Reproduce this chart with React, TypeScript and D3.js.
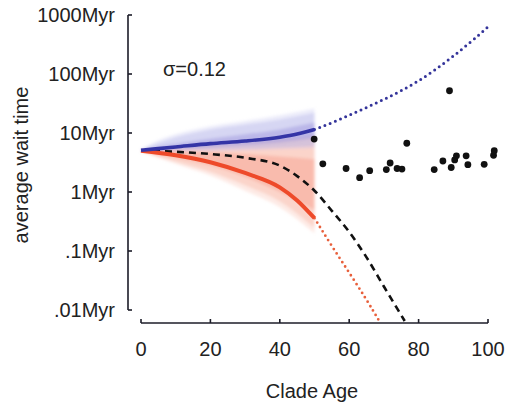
import React, { useEffect, useRef } from "react";
import * as d3 from "d3";

// mean curves (age in Myr, wait time in Myr)
const meanAges = [0, 10, 20, 30, 40, 45, 50];
const blueMean = [5.1, 5.8, 6.6, 7.3, 8.5, 9.6, 11.5];
const redMean = [5.0, 4.2, 3.2, 2.1, 1.2, 0.72, 0.36];

const dashAges = [0, 10, 20, 30, 40, 45, 50, 55, 60, 65, 70, 76];
const dashVals = [5.0, 4.8, 4.4, 3.8, 2.8, 1.86, 1.05, 0.48, 0.21, 0.078, 0.025, 0.0065];

const blueProjAges = [50, 55, 60, 65, 70, 75, 80, 85, 90, 95, 100];
const blueProjVals = [11.5, 14.8, 20, 27, 37, 52, 76, 120, 200, 347, 630];

const redProjAges = [50, 55, 60, 65, 69];
const redProjVals = [0.36, 0.12, 0.043, 0.015, 0.006];

// envelopes of the simulated clades
const cloudAges = [0, 5, 10, 20, 30, 40, 50];
const blueFaintHi = [5.3, 7.5, 9.5, 13, 16, 20, 26];
const blueFaintLo = [5.0, 4.9, 4.9, 5.0, 5.1, 5.3, 5.5];
const blueOuterHi = [5.2, 6.8, 8.5, 11.5, 14, 17, 22];
const blueOuterLo = [5.0, 5.0, 5.1, 5.2, 5.4, 5.7, 6.0];
const blueInnerHi = [5.1, 5.9, 6.6, 8.0, 9.5, 11.5, 15];
const blueInnerLo = [5.0, 5.2, 5.4, 5.8, 6.3, 7.0, 8.2];
const redFaintHi = [5.0, 5.4, 5.8, 6.6, 7.4, 8.2, 9.5];
const redFaintLo = [4.9, 3.8, 3.0, 1.9, 1.05, 0.55, 0.2];
const redOuterHi = [5.0, 5.3, 5.6, 6.2, 6.8, 7.5, 8.5];
const redOuterLo = [4.9, 4.0, 3.3, 2.2, 1.3, 0.7, 0.25];
const redInnerHi = [5.0, 5.0, 4.9, 4.7, 4.4, 4.0, 3.6];
const redInnerLo = [4.9, 4.3, 3.8, 2.8, 1.8, 1.0, 0.5];

// observed clades
const obsAges = [49.9, 52.4, 59.1, 63.0, 65.9, 70.7, 71.8, 73.8, 75.2, 76.6, 84.5, 87.0, 88.9, 89.4, 90.4, 90.9, 93.7, 94.2, 98.9, 101.6, 101.8];
const obsVals = [7.9, 3.0, 2.5, 1.75, 2.3, 2.4, 3.1, 2.5, 2.45, 6.7, 2.4, 3.35, 52, 2.6, 3.5, 4.1, 4.1, 2.9, 2.95, 4.2, 5.0];

const yTicks = [1000, 100, 10, 1, 0.1, 0.01];
const yTickLabels = ["1000Myr", "100Myr", "10Myr", "1Myr", ".1Myr", ".01Myr"];
const xTicks = [0, 20, 40, 60, 80, 100];

const App = () => {
  const svgRef = useRef(null);

  useEffect(() => {
    const svg = d3.select(svgRef.current);
    svg.selectAll("*").remove();

    const x = d3.scaleLinear().domain([0, 100]).range([141, 488]);
    const y = d3.scaleLog().domain([0.01, 1000]).range([310, 15]);
    const font = "'Liberation Sans', Arial, sans-serif";

    const filter = svg
      .append("defs")
      .append("filter")
      .attr("id", "soft")
      .attr("x", "-10%")
      .attr("y", "-20%")
      .attr("width", "120%")
      .attr("height", "140%");
    filter.append("feGaussianBlur").attr("stdDeviation", 1.8);

    const line = d3
      .line<number>()
      .x((d) => x(d[0]))
      .y((d) => y(d[1]))
      .curve(d3.curveMonotoneX);

    const clouds = svg.append("g").attr("filter", "url(#soft)");

    const band = (ages, hi, lo, fill, op) => {
      const pts = ages.map((a, i) => [a, hi[i], lo[i]]);
      clouds
        .append("path")
        .datum(pts)
        .attr(
          "d",
          d3
            .area()
            .x((d) => x(d[0]))
            .y0((d) => y(d[2]))
            .y1((d) => y(d[1]))
            .curve(d3.curveMonotoneX)
        )
        .attr("fill", fill)
        .attr("opacity", op);
    };

    // clouds
    band(cloudAges, redFaintHi, redFaintLo, "#f8b8a8", 0.3);
    band(cloudAges, redOuterHi, redOuterLo, "#f6a08c", 0.3);
    band(cloudAges, redInnerHi, redInnerLo, "#f07a62", 0.28);
    band(cloudAges, blueFaintHi, blueFaintLo, "#c0c0ee", 0.3);
    band(cloudAges, blueOuterHi, blueOuterLo, "#a8a8e6", 0.32);
    band(cloudAges, blueInnerHi, blueInnerLo, "#7a6ed0", 0.3);

    const zip = (a, b) => a.map((v, i) => [v, b[i]]);

    // dashed expectation
    svg
      .append("path")
      .attr("d", line(zip(dashAges, dashVals)))
      .attr("fill", "none")
      .attr("stroke", "#111")
      .attr("stroke-width", 2.6)
      .attr("stroke-dasharray", "7,5");

    // projections
    const smooth = d3
      .line<number>()
      .x((d) => x(d[0]))
      .y((d) => y(d[1]))
      .curve(d3.curveBasis);

    svg
      .append("path")
      .attr("d", smooth(zip(redProjAges, redProjVals)))
      .attr("fill", "none")
      .attr("stroke", "#e8603c")
      .attr("stroke-width", 2.8)
      .attr("stroke-linecap", "round")
      .attr("stroke-dasharray", "0,5.2");

    svg
      .append("path")
      .attr("d", smooth(zip(blueProjAges, blueProjVals)))
      .attr("fill", "none")
      .attr("stroke", "#34349a")
      .attr("stroke-width", 3)
      .attr("stroke-linecap", "round")
      .attr("stroke-dasharray", "0,5.6");

    // means
    svg
      .append("path")
      .attr("d", line(zip(meanAges, redMean)))
      .attr("fill", "none")
      .attr("stroke", "#ee4a2a")
      .attr("stroke-width", 4);

    svg
      .append("path")
      .attr("d", line(zip(meanAges, blueMean)))
      .attr("fill", "none")
      .attr("stroke", "#3434a6")
      .attr("stroke-width", 3.6);

    // observed points
    svg
      .selectAll(".obs")
      .data(zip(obsAges, obsVals))
      .enter()
      .append("circle")
      .attr("class", "obs")
      .attr("cx", (d) => x(d[0]))
      .attr("cy", (d) => y(d[1]))
      .attr("r", 3.4)
      .attr("fill", "#111");

    // y axis
    const axisColor = "#1c1c28";
    svg
      .append("line")
      .attr("x1", 128)
      .attr("x2", 128)
      .attr("y1", y(1000))
      .attr("y2", y(0.01))
      .attr("stroke", axisColor)
      .attr("stroke-width", 1.6);
    yTicks.forEach((t, i) => {
      svg
        .append("line")
        .attr("x1", 128)
        .attr("x2", 132)
        .attr("y1", y(t))
        .attr("y2", y(t))
        .attr("stroke", axisColor)
        .attr("stroke-width", 1.6);
      svg
        .append("text")
        .attr("x", 115)
        .attr("y", y(t))
        .attr("dy", "0.36em")
        .attr("text-anchor", "end")
        .attr("font-family", font)
        .attr("font-size", 20)
        .attr("fill", "#222")
        .text(yTickLabels[i]);
    });

    // x axis
    svg
      .append("line")
      .attr("x1", x(0))
      .attr("x2", x(100))
      .attr("y1", 323)
      .attr("y2", 323)
      .attr("stroke", axisColor)
      .attr("stroke-width", 1.6);
    xTicks.forEach((t) => {
      svg
        .append("line")
        .attr("x1", x(t))
        .attr("x2", x(t))
        .attr("y1", 323)
        .attr("y2", 319)
        .attr("stroke", axisColor)
        .attr("stroke-width", 1.6);
      svg
        .append("text")
        .attr("x", x(t))
        .attr("y", 356)
        .attr("text-anchor", "middle")
        .attr("font-family", font)
        .attr("font-size", 20)
        .attr("fill", "#222")
        .text(t);
    });

    svg
      .append("text")
      .attr("x", 312)
      .attr("y", 398)
      .attr("text-anchor", "middle")
      .attr("font-family", font)
      .attr("font-size", 20)
      .attr("fill", "#222")
      .text("Clade Age");

    svg
      .append("text")
      .attr("transform", "translate(28,165) rotate(-90)")
      .attr("text-anchor", "middle")
      .attr("font-family", font)
      .attr("font-size", 20)
      .attr("fill", "#222")
      .text("average wait time");

    svg
      .append("text")
      .attr("x", 163)
      .attr("y", 76)
      .attr("font-family", font)
      .attr("font-size", 20)
      .attr("fill", "#222")
      .text("σ=0.12");
  }, []);

  return (
    <svg
      ref={svgRef}
      width={516}
      height={404}
      style={{ position: "absolute", left: 0, top: 0, background: "#fff" }}
    />
  );
};

export default App;
